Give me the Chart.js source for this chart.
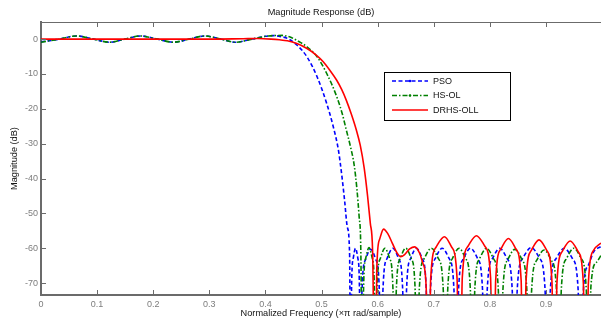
<!DOCTYPE html>
<html>
<head>
<meta charset="utf-8">
<script src="https://cdn.jsdelivr.net/npm/chart.js@4"></script>
<style>
html,body{margin:0;padding:0;background:#fff;overflow:hidden;}
#c{display:block;}
</style>
</head>
<body>
<canvas id="c" width="601" height="324"></canvas>
<script>
// ---------- data ----------
const xTicks = [0, 0.1, 0.2, 0.3, 0.4, 0.5, 0.6, 0.7, 0.8, 0.9];
const yTicks = [0, -10, -20, -30, -40, -50, -60, -70];
const seriesNames = ['PSO', 'HS-OL', 'DRHS-OLL'];

const psoFreq = [0, 0.033, 0.063, 0.093, 0.122, 0.150, 0.177, 0.207, 0.236, 0.264, 0.292, 0.320, 0.347, 0.376,
  0.400, 0.415, 0.428, 0.439, 0.456, 0.474, 0.492, 0.509, 0.521, 0.530, 0.536, 0.541, 0.546, 0.550, 0.552,
  0.5534, 0.5563, 0.5605, 0.5648, 0.5676, 0.569,
  0.5720, 0.5783, 0.5875, 0.5968, 0.6030, 0.606,
  0.6094, 0.6165, 0.627, 0.6375, 0.6446, 0.648,
  0.6514, 0.6585, 0.669, 0.6795, 0.6866, 0.690,
  0.694, 0.7025, 0.715, 0.7275, 0.736, 0.740,
  0.7441, 0.7528, 0.7655, 0.7783, 0.7869, 0.791,
  0.7952, 0.8043, 0.8175, 0.8308, 0.8398, 0.844,
  0.8487, 0.8588, 0.8735, 0.8883, 0.8983, 0.903,
  0.9077, 0.9178, 0.9325, 0.9473, 0.9573, 0.962,
  0.9667, 0.975, 0.985, 0.998];
const psoDb = [-0.8, 0, 0.9, 0, -0.9, 0, 0.9, 0, -0.9, 0, 0.9, 0, -0.9, 0,
  0.8, 1.0, 0.7, 0.2, -1.7, -5.1, -10.8, -18.4, -25.2, -31.8, -39, -46.2, -54, -62, -120,
  -72, -63, -60, -63, -72, -120,
  -72.3, -63.3, -60.3, -63.3, -72.3, -120,
  -72, -63, -60, -63, -72, -120,
  -72, -63, -60, -63, -72, -120,
  -72, -63, -60, -63, -72, -120,
  -72, -63, -60, -63, -72, -120,
  -72, -63, -60, -63, -72, -120,
  -71.8, -62.8, -59.8, -62.8, -71.8, -120,
  -72, -63, -60, -63, -72, -120,
  -72, -65, -61, -59.5];

const hsFreq = [0, 0.033, 0.063, 0.093, 0.122, 0.150, 0.177, 0.207, 0.236, 0.264, 0.292, 0.320, 0.347, 0.376,
  0.405, 0.430, 0.445, 0.456, 0.474, 0.492, 0.509, 0.527, 0.537, 0.544, 0.551, 0.558, 0.563, 0.567, 0.570, 0.573,
  0.5748, 0.5788, 0.5845, 0.5903, 0.5942, 0.596,
  0.5987, 0.6045, 0.613, 0.6215, 0.6273, 0.630,
  0.6332, 0.640, 0.650, 0.660, 0.6668, 0.670,
  0.6741, 0.6828, 0.6955, 0.7083, 0.7169, 0.721,
  0.7248, 0.733, 0.745, 0.757, 0.7652, 0.769,
  0.773, 0.7815, 0.794, 0.8065, 0.815, 0.819,
  0.8231, 0.8318, 0.8445, 0.8573, 0.8659, 0.870,
  0.8742, 0.8833, 0.8965, 0.9098, 0.9188, 0.923,
  0.9272, 0.9363, 0.9495, 0.9628, 0.9718, 0.976,
  0.980, 0.990, 0.998];
const hsDb = [-0.9, 0, 0.9, 0, -0.9, 0, 0.9, 0, -0.9, 0, 0.9, 0, -0.9, 0,
  0.9, 1.05, 0.5, -0.4, -2.2, -5.1, -9.8, -16.5, -21.5, -26, -30.5, -36, -43, -51, -61, -120,
  -71.8, -62.8, -59.8, -62.8, -71.8, -120,
  -72, -63, -60, -63, -72, -120,
  -72, -63, -60, -63, -72, -120,
  -72, -63, -60, -63, -72, -120,
  -72, -63, -60, -63, -72, -120,
  -72, -63, -60, -63, -72, -120,
  -72.3, -63.3, -60.3, -63.3, -72.3, -120,
  -72.5, -63.5, -60.5, -63.5, -72.5, -120,
  -72, -63, -60, -63, -72, -120,
  -71, -64, -62];

const drFreq = [0, 0.1, 0.2, 0.3, 0.36, 0.386, 0.41, 0.425, 0.439, 0.456,
  0.474, 0.490, 0.503, 0.515, 0.527, 0.536, 0.544, 0.553, 0.562, 0.569,
  0.576, 0.582, 0.587, 0.591, 0.596,
  0.5983, 0.6033, 0.6105, 0.618, 0.626, 0.634, 0.641, 0.648, 0.657, 0.666, 0.675, 0.681, 0.6865, 0.690,
  0.6945, 0.704, 0.719, 0.732, 0.7415, 0.746,
  0.7508, 0.761, 0.776, 0.791, 0.8012, 0.806,
  0.8103, 0.8195, 0.833, 0.8465, 0.8557, 0.860,
  0.8644, 0.8738, 0.8875, 0.9013, 0.9106, 0.915,
  0.9195, 0.929, 0.943, 0.957, 0.9665, 0.971,
  0.9755, 0.985, 0.998];
const drDb = [0, 0, 0, 0, 0.1, 0.15, 0, -0.2, -0.5, -1.3,
  -2.7, -4.5, -6.5, -9, -11.8, -14.5, -17.5, -21.5, -26.1, -30.5,
  -37, -45, -53, -61, -120,
  -66.5, -57.5, -54.5, -55.8, -58.5, -61.2, -62.4, -61.8, -60.2, -59.6, -61.5, -64.5, -71.5, -120,
  -68.7, -59.7, -56.7, -59.7, -68.7, -120,
  -68.4, -59.4, -56.4, -59.4, -68.4, -120,
  -69.2, -60.2, -57.2, -60.2, -69.2, -120,
  -69.6, -60.6, -57.6, -60.6, -69.6, -120,
  -69.9, -60.9, -57.9, -60.9, -69.9, -120,
  -70, -60.5, -58.5];

// ---------- chart ----------
const FONT = '"Liberation Sans", Arial, Helvetica, sans-serif';
const AXIS_COLOR = '#6b6b6b';
const TICK_TEXT = '#7d7d7d';
const toXY = (xs, ys) => xs.map((v, i) => ({x: v, y: ys[i]}));

const styles = [
  {color: '#0000ff', dash: [4, 2.5]},
  {color: '#008000', dash: [5, 2, 1.5, 2]},
  {color: '#ff0000', dash: []}
];

const decor = {
  id: 'decor',
  afterDraw(chart) {
    const {ctx, chartArea: a, scales: {x, y}} = chart;
    ctx.save();
    // top border + inward ticks
    ctx.strokeStyle = AXIS_COLOR;
    ctx.lineWidth = 1.2;
    ctx.beginPath();
    ctx.moveTo(a.left, a.top + 0.5); ctx.lineTo(a.right, a.top + 0.5);
    ctx.stroke();
    ctx.lineWidth = 1;
    ctx.beginPath();
    for (const v of xTicks) {
      const px = Math.round(x.getPixelForValue(v)) + 0.5;
      ctx.moveTo(px, a.bottom); ctx.lineTo(px, a.bottom - 5);
      ctx.moveTo(px, a.top); ctx.lineTo(px, a.top + 5);
    }
    for (const v of yTicks) {
      const py = Math.round(y.getPixelForValue(v)) + 0.5;
      ctx.moveTo(a.left, py); ctx.lineTo(a.left + 5, py);
    }
    ctx.stroke();

    // title
    ctx.fillStyle = '#111';
    ctx.font = '9.2px ' + FONT;
    ctx.textAlign = 'center';
    ctx.textBaseline = 'middle';
    ctx.fillText('Magnitude Response (dB)', (a.left + a.right) / 2, 12);

    // legend
    const bx = a.left + 343, by = a.top + 50, bw = 126, bh = 48;
    ctx.fillStyle = '#fff';
    ctx.fillRect(bx, by, bw, bh);
    ctx.strokeStyle = '#000';
    ctx.lineWidth = 1;
    ctx.strokeRect(bx + 0.5, by + 0.5, bw, bh);
    const rows = [by + 9, by + 23.5, by + 38];
    seriesNames.forEach((name, i) => {
      const ry = rows[i];
      ctx.strokeStyle = styles[i].color;
      ctx.lineWidth = 1.6;
      ctx.setLineDash(styles[i].dash);
      ctx.beginPath();
      ctx.moveTo(bx + 8, ry); ctx.lineTo(bx + 44, ry);
      ctx.stroke();
      ctx.setLineDash([]);
      if (i < 2) {
        ctx.fillStyle = styles[i].color;
        ctx.beginPath(); ctx.arc(bx + 26, ry, 1.3, 0, Math.PI * 2); ctx.fill();
      }
      ctx.fillStyle = '#111';
      ctx.font = '9px ' + FONT;
      ctx.textAlign = 'left';
      ctx.textBaseline = 'middle';
      ctx.fillText(name, bx + 49, ry + 0.5);
    });
    ctx.restore();
  }
};

const freqs = [psoFreq, hsFreq, drFreq];
const dbs = [psoDb, hsDb, drDb];
const orders = [3, 2, 1];

new Chart(document.getElementById('c'), {
  type: 'line',
  data: {
    datasets: seriesNames.map((name, i) => ({
      label: name,
      data: toXY(freqs[i], dbs[i]),
      borderColor: styles[i].color,
      borderDash: styles[i].dash,
      borderWidth: 1.6,
      pointRadius: 0,
      fill: false,
      cubicInterpolationMode: 'monotone',
      clip: 0,
      order: orders[i]
    }))
  },
  options: {
    responsive: false,
    animation: false,
    devicePixelRatio: 1,
    layout: {padding: {left: 0, right: -6.5, top: 22, bottom: 0}},
    plugins: {legend: {display: false}, tooltip: {enabled: false}, title: {display: false}},
    scales: {
      x: {
        type: 'linear', min: 0, max: 0.998,
        afterBuildTicks: s => { s.ticks = xTicks.map(v => ({value: v})); },
        afterFit: s => { s.height = 29; },
        grid: {drawOnChartArea: false, drawTicks: false},
        border: {display: true, color: AXIS_COLOR, width: 2},
        ticks: {color: TICK_TEXT, font: {family: FONT, size: 9}, padding: 4, maxRotation: 0, autoSkip: false,
          callback: v => String(v)},
        title: {display: true, text: 'Normalized Frequency (×π rad/sample)', color: '#111',
          font: {family: FONT, size: 9.2}, padding: {top: 0, bottom: 5.5}}
      },
      y: {
        type: 'linear', min: -73.4, max: 4.9,
        afterBuildTicks: s => { s.ticks = yTicks.map(v => ({value: v})); },
        afterFit: s => { s.width = 41; },
        grid: {drawOnChartArea: false, drawTicks: false},
        border: {display: true, color: AXIS_COLOR, width: 2},
        ticks: {color: TICK_TEXT, font: {family: FONT, size: 9}, padding: 3, autoSkip: false,
          callback: v => String(v)},
        title: {display: true, text: 'Magnitude (dB)', color: '#111',
          font: {family: FONT, size: 9.2}, padding: {top: 8.5, bottom: 0}}
      }
    }
  },
  plugins: [decor]
});
</script>
</body>
</html>
